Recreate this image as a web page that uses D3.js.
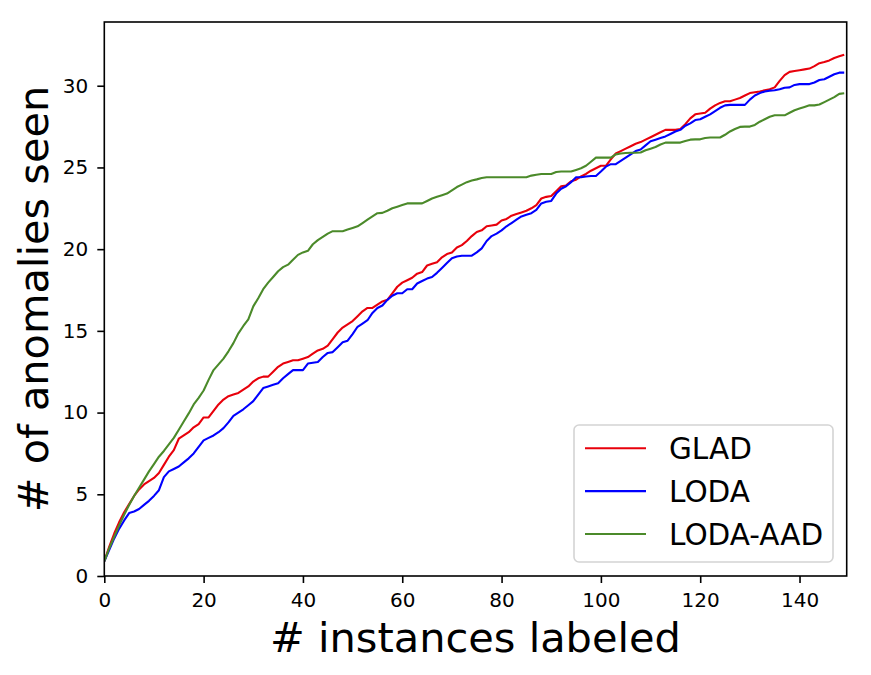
<!DOCTYPE html>
<html>
<head>
<meta charset="utf-8">
<script src="https://cdn.jsdelivr.net/npm/d3@7/dist/d3.min.js"></script>
<style>
  html, body { margin: 0; padding: 0; background: #fff; }
  svg { display: block; font-family: "DejaVu Sans", sans-serif; }
</style>
</head>
<body>
<svg id="chart" width="871" height="675"></svg>
<script>
// ---- data ----
const instances = d3.range(0, 150); // x values 0..149
const glad = [
  0.9,1.8,2.6,3.3,3.9,4.4,4.9,5.3,5.6,5.8,
  6.0,6.3,6.8,7.3,7.7,8.4,8.6,8.8,9.1,9.3,
  9.7,9.7,10.1,10.5,10.8,11.0,11.1,11.2,11.4,11.6,
  11.9,12.1,12.2,12.2,12.5,12.8,13.0,13.1,13.2,13.2,
  13.3,13.4,13.6,13.8,13.9,14.1,14.5,14.9,15.2,15.4,
  15.6,15.9,16.2,16.4,16.4,16.6,16.8,16.9,17.3,17.7,
  17.95,18.1,18.25,18.5,18.6,19.0,19.1,19.2,19.5,19.7,
  19.8,20.1,20.25,20.5,20.8,21.05,21.15,21.4,21.45,21.5,
  21.75,21.85,22.05,22.15,22.25,22.35,22.5,22.7,23.1,23.2,
  23.25,23.55,23.85,23.9,24.15,24.25,24.45,24.6,24.8,24.95,
  25.1,25.1,25.5,25.85,26.0,26.15,26.3,26.45,26.55,26.7,
  26.85,27.0,27.15,27.3,27.3,27.3,27.35,27.65,28.0,28.25,
  28.3,28.35,28.6,28.8,28.95,29.05,29.05,29.15,29.25,29.4,
  29.55,29.6,29.65,29.72,29.78,29.9,30.3,30.65,30.85,30.9,
  30.95,31.0,31.05,31.2,31.38,31.45,31.55,31.7,31.8,31.9
];
const loda = [
  0.9,1.6,2.3,2.9,3.4,3.85,3.95,4.1,4.35,4.6,
  4.9,5.25,6.05,6.4,6.55,6.7,6.95,7.2,7.5,7.9,
  8.3,8.45,8.6,8.8,9.05,9.4,9.8,10.0,10.2,10.45,
  10.7,11.1,11.5,11.6,11.7,11.8,12.1,12.35,12.6,12.6,
  12.6,13.0,13.05,13.1,13.4,13.65,13.7,14.0,14.3,14.4,
  14.8,15.25,15.45,15.65,16.1,16.4,16.55,16.9,17.15,17.3,
  17.3,17.55,17.55,17.9,18.05,18.2,18.3,18.55,18.85,19.15,
  19.45,19.55,19.6,19.6,19.6,19.8,20.05,20.5,20.8,20.95,
  21.15,21.4,21.6,21.8,22.0,22.1,22.2,22.4,22.8,22.9,
  22.95,23.4,23.7,23.85,24.1,24.4,24.4,24.45,24.48,24.48,
  24.75,25.05,25.2,25.2,25.4,25.6,25.8,26.0,26.1,26.35,
  26.6,26.7,26.8,26.9,27.05,27.2,27.3,27.55,27.7,27.9,
  27.95,28.1,28.25,28.45,28.65,28.8,28.83,28.83,28.83,28.83,
  29.15,29.4,29.55,29.65,29.7,29.72,29.78,29.88,29.9,30.05,
  30.1,30.1,30.1,30.2,30.35,30.4,30.55,30.7,30.8,30.8
];
const lodaAad = [
  0.9,1.7,2.4,3.1,3.75,4.35,4.9,5.4,5.9,6.4,
  6.85,7.3,7.65,8.05,8.45,8.95,9.45,9.95,10.5,10.9,
  11.35,12.0,12.6,12.95,13.3,13.75,14.25,14.85,15.3,15.7,
  16.5,17.0,17.55,17.95,18.3,18.65,18.9,19.05,19.35,19.65,
  19.8,19.9,20.3,20.55,20.75,20.95,21.1,21.1,21.1,21.2,
  21.3,21.4,21.6,21.8,22.0,22.2,22.22,22.35,22.5,22.6,
  22.7,22.8,22.8,22.8,22.8,22.95,23.1,23.2,23.3,23.4,
  23.6,23.8,23.95,24.1,24.2,24.27,24.35,24.4,24.4,24.4,
  24.4,24.4,24.4,24.4,24.4,24.4,24.5,24.55,24.6,24.6,
  24.6,24.72,24.75,24.75,24.75,24.85,24.95,25.1,25.35,25.6,
  25.6,25.6,25.6,25.8,25.85,25.88,25.9,25.9,25.91,26.05,
  26.15,26.25,26.4,26.52,26.52,26.52,26.52,26.62,26.7,26.72,
  26.72,26.8,26.83,26.83,26.83,27.0,27.2,27.35,27.48,27.5,
  27.5,27.6,27.8,27.95,28.1,28.19,28.19,28.19,28.35,28.5,
  28.6,28.7,28.8,28.8,28.85,29.0,29.15,29.3,29.5,29.54
];
const seriesNames = ["GLAD", "LODA", "LODA-AAD"];
const seriesColors = ["#e8000b", "#0000ff", "#4b8a2a"];
const xTicks = [0, 20, 40, 60, 80, 100, 120, 140];
const yTicks = [0, 5, 10, 15, 20, 25, 30];
const xLabel = "# instances labeled";
const yLabel = "# of anomalies seen";

// ---- layout ----
const plot = { left: 104.3, right: 846.7, top: 22, bottom: 576 };

const svg = d3.select("#chart");
const x = d3.scaleLinear().domain([0, 149.5]).range([plot.left, plot.right]);
const y = d3.scaleLinear().domain([0, 33.9]).range([plot.bottom, plot.top]);

const series = [glad, loda, lodaAad];

svg.append("clipPath").attr("id", "clip")
  .append("rect").attr("x", plot.left).attr("y", plot.top)
  .attr("width", plot.right - plot.left).attr("height", plot.bottom - plot.top);

const line = d3.line().x((d, i) => x(instances[i])).y(d => y(d));
const gLines = svg.append("g").attr("clip-path", "url(#clip)");
series.forEach((s, k) => {
  gLines.append("path").datum(s)
    .attr("d", line)
    .attr("fill", "none")
    .attr("stroke", seriesColors[k])
    .attr("stroke-width", 2.1)
    .attr("stroke-linejoin", "round");
});

// axes
const xAxis = d3.axisBottom(x).tickValues(xTicks).tickSize(7).tickPadding(10).tickSizeOuter(0);
const yAxis = d3.axisLeft(y).tickValues(yTicks).tickSize(7).tickPadding(9).tickSizeOuter(0);

const gx = svg.append("g").attr("transform", `translate(0,${plot.bottom})`).call(xAxis);
const gy = svg.append("g").attr("transform", `translate(${plot.left},0)`).call(yAxis);
[gx, gy].forEach(g => {
  g.select(".domain").remove();
  g.selectAll(".tick line").attr("stroke", "#000").attr("stroke-width", 1.6);
  g.selectAll(".tick text").attr("fill", "#000")
    .style("font-size", "20px").style("font-family", "DejaVu Sans, sans-serif");
});

// frame (spines)
svg.append("rect")
  .attr("x", plot.left).attr("y", plot.top)
  .attr("width", plot.right - plot.left).attr("height", plot.bottom - plot.top)
  .attr("fill", "none").attr("stroke", "#000").attr("stroke-width", 1.6);

// axis labels
svg.append("text")
  .attr("x", (plot.left + plot.right) / 2).attr("y", 652)
  .attr("text-anchor", "middle")
  .style("font-size", "41.5px").attr("fill", "#000")
  .text(xLabel);

svg.append("text")
  .attr("transform", `translate(48,${(plot.top + plot.bottom) / 2}) rotate(-90)`)
  .attr("text-anchor", "middle")
  .style("font-size", "41.5px").attr("fill", "#000")
  .text(yLabel);

// legend
const leg = svg.append("g");
leg.append("rect")
  .attr("x", 574).attr("y", 425).attr("width", 259).attr("height", 137)
  .attr("rx", 5).attr("ry", 5)
  .attr("fill", "#fff").attr("fill-opacity", 0.8)
  .attr("stroke", "#d4d4d4").attr("stroke-width", 1.6);
const legY = d3.scalePoint().domain(seriesNames).range([448.3, 534]);
seriesNames.forEach((name, k) => {
  const yy = legY(name);
  leg.append("line")
    .attr("x1", 585).attr("x2", 646).attr("y1", yy).attr("y2", yy)
    .attr("stroke", seriesColors[k]).attr("stroke-width", 2.1);
  leg.append("text")
    .attr("x", 669).attr("y", yy).attr("dy", "0.365em")
    .style("font-size", "29.5px").attr("fill", "#000")
    .text(name);
});
</script>
</body>
</html>
